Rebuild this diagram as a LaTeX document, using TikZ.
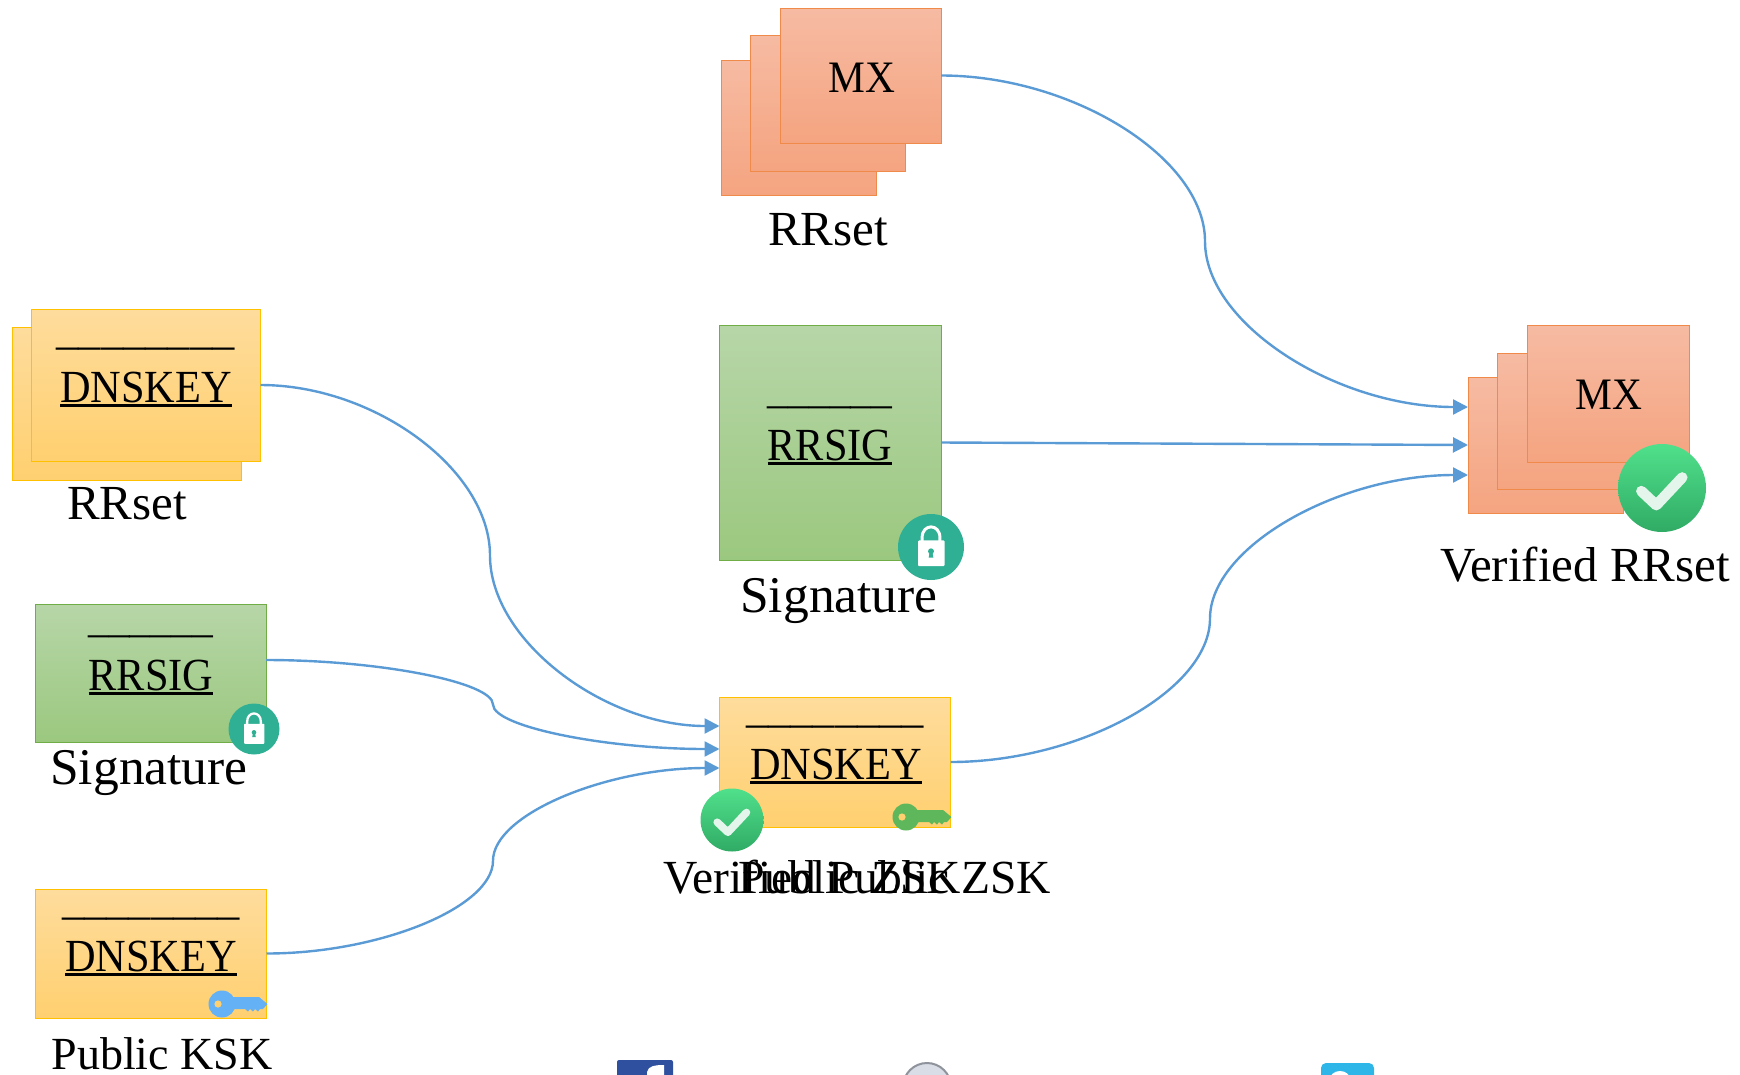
\documentclass[tikz,border=0pt]{standalone}
\usepackage{fontspec}
\setmainfont{Liberation Serif}
\newfontfamily\narrowf[FakeStretch=0.92]{Liberation Serif}
\usetikzlibrary{arrows.meta,calc}
\definecolor{conncol}{HTML}{5B9BD5}
\definecolor{tealc}{HTML}{2FB094}
\definecolor{grbd}{HTML}{70AD47}\definecolor{grtop}{HTML}{B7D6A8}\definecolor{grbot}{HTML}{9BC87F}
\definecolor{orbd}{HTML}{F08A4B}\definecolor{ortop}{HTML}{F6BBA3}\definecolor{orbot}{HTML}{F5A480}
\definecolor{yebd}{HTML}{FFC000}\definecolor{yetop}{HTML}{FEDC9C}\definecolor{yebot}{HTML}{FFD070}
\definecolor{checktop}{HTML}{50E08B}\definecolor{checkbot}{HTML}{30AB65}\definecolor{checkw}{HTML}{E4F5EC}
\definecolor{keyg}{HTML}{5FB75C}\definecolor{keyb}{HTML}{64B1F6}
\definecolor{fbblue}{HTML}{2F4F9F}\definecolor{twblue}{HTML}{2EB6E8}\definecolor{globec}{HTML}{D8DDE6}\definecolor{glober}{HTML}{8E939C}
\newcommand\ulbox[1]{\setbox0\hbox{#1}\rlap{\raisebox{-4.5pt}{\rule{\wd0}{2.4pt}}}\box0}
\newcommand\dashrow[1]{\foreach \i in {1,...,#1}{\_}}
\tikzset{
  x=1pt,y=-1pt,
  ybox/.style={rectangle,draw=yebd,line width=1pt,top color=yetop,bottom color=yebot,inner sep=0pt,outer sep=0pt},
  gbox/.style={rectangle,draw=grbd,line width=1pt,top color=grtop,bottom color=grbot,inner sep=0pt,outer sep=0pt},
  obox/.style={rectangle,draw=orbd,line width=1pt,top color=ortop,bottom color=orbot,inner sep=0pt,outer sep=0pt},
  lab/.style={font=\fontsize{49}{52}\selectfont,anchor=base,inner sep=0pt},
  siglab/.style={font=\fontsize{51.5}{54}\selectfont,anchor=base,inner sep=0pt},
  boxtxt/.style={font=\narrowf\fontsize{46}{49}\selectfont,anchor=base,inner sep=0pt},
  boxdash/.style={font=\fontsize{44.5}{48}\selectfont,anchor=base,inner sep=0pt},
  conn/.style={draw=conncol,line width=2.4pt,-{Triangle[length=15pt,width=15pt]}}
}
% curved connector: start, end, x of its middle
\newcommand\cconn[3]{\draw[conn] let \p1=(#1), \p2=(#2) in
  (\p1) .. controls (\x1*.5+#3pt*.5,\y1) and (#3pt,\y1*.75+\y2*.25) ..
  (#3pt,\y1*.5+\y2*.5) .. controls (#3pt,\y1*.25+\y2*.75) and (#3pt*.5+\x2*.5,\y2) .. (\p2);}
\newcommand\checkbadge[3]{\begin{scope}[shift={(#1,#2)},x=#3pt,y=-#3pt]
  \shade[top color=checktop,bottom color=checkbot] (0,0) circle [radius=#3pt];
  \draw[checkw,line width=#3*.24pt,line cap=round,line join=round] (-.47,.07) -- (-.13,.39) -- (.46,-.24);
\end{scope}}
\newcommand\lockbadge[3]{\begin{scope}[shift={(#1,#2)},x=#3pt,y=-#3pt]
  \fill[tealc] (0,0) circle [radius=#3pt];
  \draw[white,line width=#3*.09pt] (-.27,-.15) -- (-.27,-.28) .. controls (-.27,-.72) and (.27,-.72) .. (.27,-.28) -- (.27,-.15);
  \fill[white,rounded corners=#3*.03pt] (-.39,-.2) rectangle (.41,.58);
  \fill[tealc] (0,.13) circle [radius=.09*#3pt];
  \fill[tealc] (-.04,.15) -- (.04,.15) -- (.07,.32) -- (-.07,.32) -- cycle;
\end{scope}}
\newcommand\keyicon[3]{\begin{scope}[shift={(#1,#2)}]
  \fill[#3] (0,0) circle [radius=13.5pt];
  \fill[#3] (0,-7) -- (37,-7) -- (45.5,0) -- (41,5) -- (38,5) -- (36,7.5) -- (33,5) -- (31,7.5) -- (28,5) -- (26,7.5) -- (23,5) -- (0,5) -- cycle;
  \fill[yebot] (-4,0) circle [radius=3.6pt];
\end{scope}}
\begin{document}
\begin{tikzpicture}
\path[use as bounding box] (0,0) rectangle (1740,1074);
\clip (0,0) rectangle (1740,1074);
% cut-off logos at the lower edge
\fill[fbblue,rounded corners=2pt] (617,1060) rectangle (673,1090);
\fill[white] (647,1076) -- (647,1072) .. controls (648,1066) and (655,1065) .. (664,1065) -- (664,1076) -- cycle;
\fill[globec,draw=glober,line width=2pt] (927,1087) circle [radius=24pt];
\fill[twblue,rounded corners=5pt] (1321,1063) rectangle (1374,1095);
\fill[white] (1340,1079) ellipse [x radius=10pt,y radius=8pt];
% boxes
\node[obox,minimum width=155pt,minimum height=135pt] (mxa3) at (798.5,127.5) {};
\node[obox,minimum width=155pt,minimum height=136pt] (mxa2) at (827.5,103) {};
\node[obox,minimum width=161pt,minimum height=135pt] (mxa1) at (860.5,75.5) {};
\node[boxtxt,font=\narrowf\fontsize{45}{48}\selectfont] (mxat) at (862,92) {MX};
\node[lab] (rrs1) at (828,245) {RRset};

\node[ybox,minimum width=229pt,minimum height=153pt] (dk1b) at (127,403.5) {};
\node[ybox,minimum width=229pt,minimum height=152pt] (dk1) at (146,385) {};
\node[boxdash] (dk1l) at (145.5,344) {\dashrow{8}};
\node[boxtxt] (dk1t) at (146,402) {\ulbox{DNSKEY}};
\node[lab] (rrs2) at (127,519) {RRset};

\node[gbox,minimum width=231pt,minimum height=138pt] (sg1) at (150.5,673) {};
\node[boxdash,font=\fontsize{41.5}{45}\selectfont] (sg1l) at (150.5,632) {\dashrow{6}};
\node[boxtxt] (sg1t) at (151,690) {\ulbox{RRSIG}};
\node[siglab] (sg1c) at (149,784) {Signature};

\node[ybox,minimum width=231pt,minimum height=129pt] (dk2) at (151,953.5) {};
\node[boxdash] (dk2l) at (151,914) {\dashrow{8}};
\node[boxtxt] (dk2t) at (151,971) {\ulbox{DNSKEY}};
\node[lab,font=\fontsize{46}{50}\selectfont] (ksk) at (162,1069) {Public KSK};

\node[gbox,minimum width=222pt,minimum height=235pt] (sg2) at (830,442.5) {};
\node[boxdash,font=\fontsize{41.5}{45}\selectfont] (sg2l) at (830,403) {\dashrow{6}};
\node[boxtxt] (sg2t) at (830,460) {\ulbox{RRSIG}};
\node[siglab] (sg2c) at (839,612) {Signature};

\node[ybox,minimum width=231pt,minimum height=130pt] (dk3) at (835,762) {};
\node[boxdash] (dk3l) at (835,722) {\dashrow{8}};
\node[boxtxt] (dk3t) at (836,779) {\ulbox{DNSKEY}};
\node[lab,font=\fontsize{47.5}{50}\selectfont,anchor=base west] (zska) at (663,893) {Verified Public ZSK};
\node[lab,font=\fontsize{47.5}{50}\selectfont,anchor=base west] (zskb) at (738,893) {Public ZSK};

\node[obox,minimum width=155pt,minimum height=136pt] (mxb3) at (1545.5,445) {};
\node[obox,minimum width=155pt,minimum height=136pt] (mxb2) at (1574.5,421) {};
\node[obox,minimum width=162pt,minimum height=137pt] (mxb1) at (1608,393.5) {};
\node[boxtxt,font=\narrowf\fontsize{45}{48}\selectfont] (mxbt) at (1609,409) {MX};
\node[lab,anchor=base west] (vrr) at (1440,581) {Verified RRset};
% connectors
\cconn{mxa1.east}{$(mxb3.west)+(0,-38)$}{1205}
\draw[conn] (sg2.east) -- (mxb3.west);
\cconn{dk3.east}{$(mxb3.west)+(0,30)$}{1210}
\cconn{dk1.east}{$(dk3.west)+(0,-36)$}{490}
\cconn{$(sg1.east)+(0,-13)$}{$(dk3.west)+(0,-13)$}{493}
\cconn{dk2.east}{$(dk3.west)+(0,6)$}{493}
% icons
\lockbadge{254}{729}{25.5}
\lockbadge{931}{547}{33}
\keyicon{222}{1004}{keyb}
\keyicon{906}{817}{keyg}
\checkbadge{732}{820}{31.5}
\checkbadge{1662}{488}{44}
\end{tikzpicture}
\end{document}
